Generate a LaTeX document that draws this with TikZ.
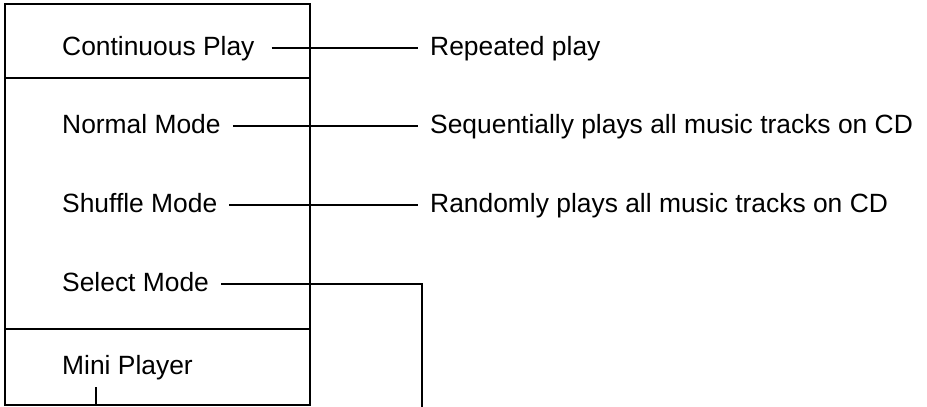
\documentclass[tikz,border=0pt]{standalone}
\usepackage{fontspec}
\setmainfont{Liberation Sans}
\begin{document}
\begin{tikzpicture}[x=1pt,y=-1pt,
  lbl/.style={anchor=west,inner xsep=0pt,inner ysep=0pt,text height=19pt,text depth=5pt,font=\fontsize{26.4}{30}\selectfont},
  frame/.style={line width=2.6pt},
  conn/.style={line width=2.2pt}]
\useasboundingbox (0,0) rectangle (927,407);
% frame
\draw[frame] (5,4) rectangle (310,405);
\draw[frame] (5,78) -- (310,78);
\draw[frame] (5,329) -- (310,329);
% left labels
\node[lbl] (cp) at (62,48) {Continuous Play};
\node[lbl] (nm) at (62,126) {Normal Mode};
\node[lbl] (sh) at (62,205) {Shuffle Mode};
\node[lbl] (sl) at (62,284) {Select Mode};
\node[lbl] (mp) at (62,367) {Mini Player};
% right labels
\node[lbl] (rp) at (430,48) {Repeated play};
\node[lbl] (sq) at (430,126) {Sequentially plays all music tracks on CD};
\node[lbl] (rd) at (430,205) {Randomly plays all music tracks on CD};
% connectors
\draw[conn,shorten <=17pt,shorten >=12pt] (cp.east) -- (rp.west);
\draw[conn,shorten <=12pt,shorten >=12pt] (nm.east) -- (sq.west);
\draw[conn,shorten <=12pt,shorten >=12pt] (sh.east) -- (rd.west);
\coordinate (selend) at (422,407);
\draw[conn,shorten <=12pt] (sl.east) -| (selend);
\coordinate (mpend) at (96,405);
\draw[conn,shorten <=8pt] (mp.south -| mpend) -- (mpend);
\end{tikzpicture}
\end{document}
